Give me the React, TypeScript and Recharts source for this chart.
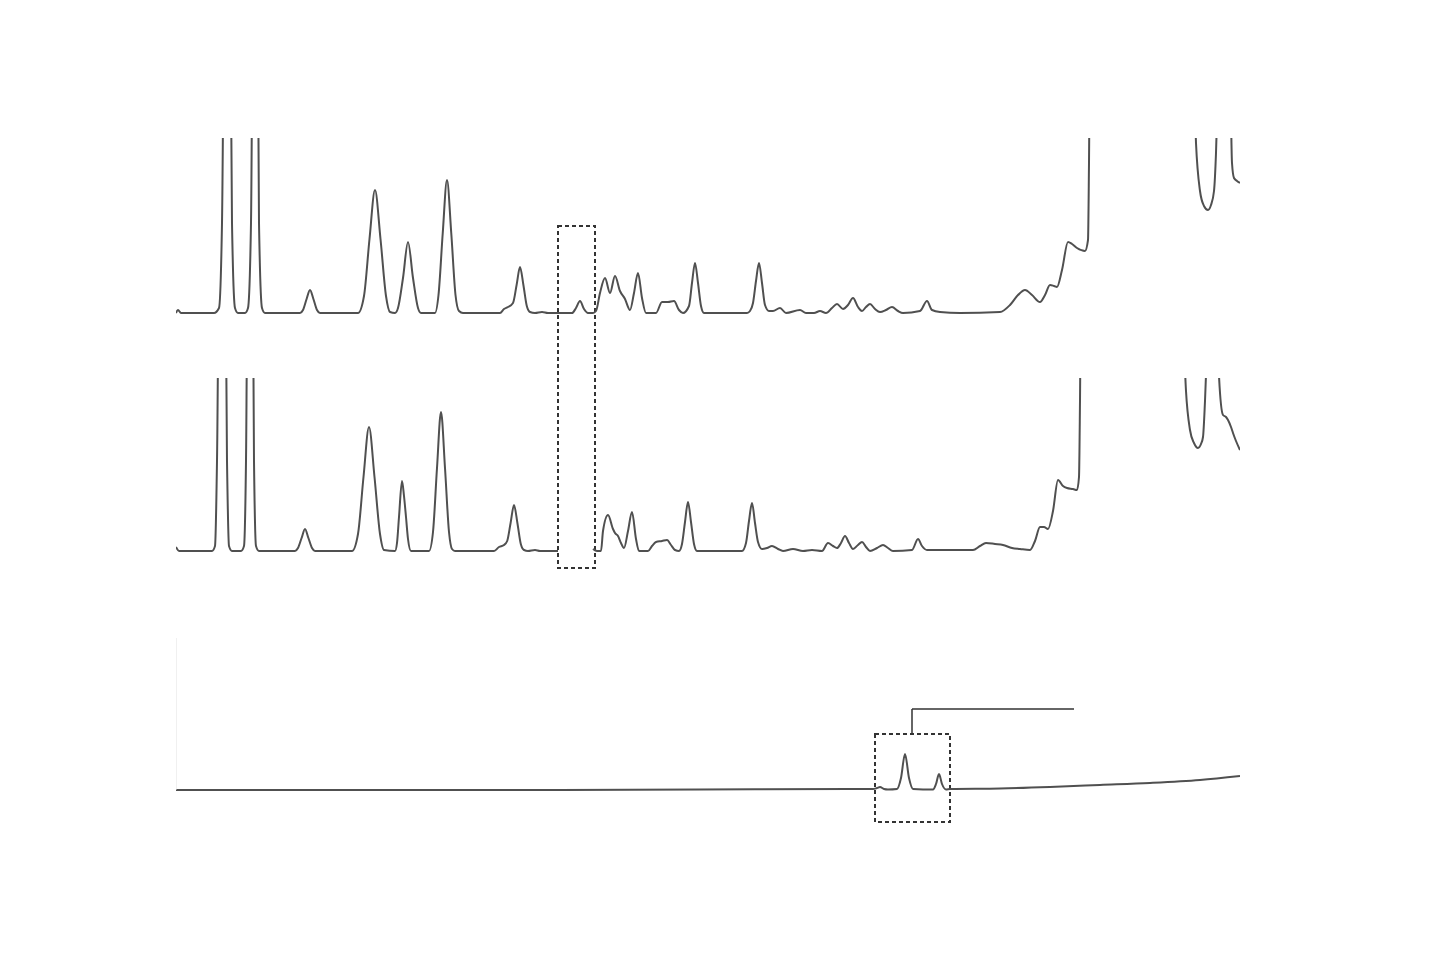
import { LineChart, Line, XAxis, YAxis, ReferenceArea, ReferenceLine } from "recharts"

// retention time (min) and detector signal (mAU) for the three runs
const topTime = [
  0, 0.1, 0.25, 1.9, 2.15, 2.3, 2.55, 2.8, 2.95, 3.1, 3.45, 3.6, 3.75, 3.95, 4.15, 4.3, 4.45,
  6.2, 6.35, 6.53, 6.7, 6.87, 7.05, 7.2,
  9.1, 9.4, 9.675, 9.95, 10.225, 10.5, 10.7,
  10.95, 11.1, 11.35, 11.6, 11.85, 12.1, 12.25,
  12.95, 13.125, 13.3375, 13.55, 13.7625, 13.975, 14.15, 14.35,
  16.2, 16.4, 16.6, 16.85, 17.03, 17.2, 17.37, 17.54, 17.7, 17.95, 18.3, 18.6,
  19.8, 20.0, 20.2, 20.4, 20.6, 20.85,
  21.0, 21.2, 21.45, 21.7, 21.95, 22.2, 22.45, 22.7, 22.9, 23.1, 23.3, 23.5,
  24.0, 24.3, 24.6, 24.9, 25.15, 25.35,
  25.65, 25.8, 25.95, 26.1, 26.25, 26.4,
  28.55, 28.7, 28.85, 29.0, 29.15, 29.3, 29.45, 29.65, 29.85, 30.2, 30.5, 31.2, 31.5, 31.9, 32.2, 32.5, 32.8,
  33.05, 33.35, 33.6, 33.85, 34.1, 34.3, 34.5, 34.7, 34.95, 35.2, 35.5, 35.8, 36.1, 36.35,
  37.2, 37.55, 37.8, 38.2, 39.2, 41.2,
  41.7, 42.1, 42.45, 42.8, 43.2, 43.45, 43.7, 43.9, 44.05, 44.3, 44.6, 44.8, 45.05, 45.45,
  45.6, 45.65, 45.7, 46.2,
  50.45, 50.85, 51.0, 51.2, 51.4, 51.6, 51.75, 51.9, 52.0, 52.1, 52.25, 52.45, 52.65, 52.8,
  52.9, 53.05, 53.2,
]
const topSignal = [
  0, 3, 0, 0, 5, 90, 700, 90, 5, 0, 0, 5, 90, 700, 90, 5, 0,
  0, 3, 14, 23, 14, 3, 0,
  0, 17, 74, 123, 74, 17, 1,
  0, 5, 35, 71, 35, 5, 0,
  0, 18, 80, 133, 80, 18, 2, 0,
  0, 4, 6, 10, 28, 46, 28, 7, 1, 0, 1, 0,
  0, 5, 12, 4, 0, 0,
  2, 20, 35, 20, 37, 22, 14, 3, 20, 40, 15, 0,
  0, 11, 11, 12, 3, 0,
  7, 30, 50, 30, 7, 0,
  0, 2, 10, 32, 50, 30, 8, 2, 2, 5, 0, 3, 0, 0, 2, 0, 5,
  9, 4, 8, 15, 6, 2, 6, 9, 4, 1, 3, 6, 2, 0,
  2, 12, 3, 1, 0, 1,
  8, 18, 23, 18, 11, 18, 28, 27, 26, 43, 71, 69, 65, 62,
  73, 150, 260, 350,
  350, 260, 170, 122, 107, 103, 108, 122, 160, 230, 350, 350, 320, 150,
  135, 132, 130,
]

const midTime = [
  0, 0.15, 1.8, 1.95, 2.05, 2.3, 2.55, 2.65, 2.8, 3.25, 3.4, 3.5, 3.7, 3.9, 4.0, 4.15,
  5.95, 6.1, 6.28, 6.45, 6.62, 6.8, 6.95,
  8.8, 9.1, 9.375, 9.65, 9.925, 10.2, 10.4,
  10.95, 11.05, 11.15, 11.3, 11.4, 11.5, 11.6, 11.75,
  12.65, 12.85, 13.05, 13.25, 13.45, 13.65, 13.8, 13.95,
  15.9, 16.15, 16.4, 16.56, 16.73, 16.9, 17.07, 17.24, 17.4, 17.6, 17.95, 18.2, 19.1, 20.0,
  20.85, 21.05, 21.25, 21.35, 21.6, 21.85, 21.95, 22.1, 22.25, 22.4, 22.6, 22.8, 23.0, 23.15,
  23.6, 23.8, 24.0, 24.3, 24.55, 24.75, 24.95, 25.15, 25.3, 25.45, 25.6, 25.75, 25.9, 26.05,
  28.3, 28.5, 28.65, 28.8, 28.95, 29.1, 29.3, 29.55, 29.8, 30.1, 30.35, 30.85, 31.35, 31.8, 32.3,
  32.6, 32.85, 33.05, 33.25, 33.45, 33.65, 33.85, 34.1, 34.3, 34.5, 34.7,
  35.05, 35.35, 35.6, 35.85, 36.8, 37.1, 37.3, 37.55, 39.85,
  40.2, 40.5, 40.95, 41.35, 41.8, 42.2, 42.7, 42.95, 43.2, 43.4, 43.6, 43.85, 44.1, 44.35,
  44.55, 44.85, 45.05, 45.15, 45.2, 45.25, 45.7,
  49.95, 50.35, 50.5, 50.7, 50.9, 51.1, 51.25, 51.35, 51.45, 51.6, 51.8, 51.95, 52.15,
  52.35, 52.5, 52.6, 52.75, 52.85, 53.0, 53.2,
]
const midSignal = [
  4, 0, 0, 5, 90, 700, 90, 5, 0, 0, 5, 90, 700, 90, 5, 0,
  0, 3, 13, 22, 13, 3, 0,
  0, 17, 74, 124, 74, 17, 1,
  0, 8, 34, 70, 55, 34, 12, 0,
  0, 19, 83, 139, 83, 19, 2, 0,
  0, 4, 6, 10, 28, 46, 28, 7, 1, 0, 1, 0, 0, null,
  2, 0, 0, 20, 36, 22, 18, 15, 8, 3, 20, 39, 12, 0,
  0, 5, 9, 10, 11, 6, 1, 0, 7, 29, 49, 29, 7, 0,
  0, 8, 30, 48, 28, 9, 2, 3, 5, 2, 0, 2, 0, 1, 0,
  8, 5, 3, 8, 15, 8, 2, 6, 9, 4, 0,
  3, 6, 3, 0, 1, 12, 5, 1, 1,
  5, 8, 7, 6, 3, 2, 1, 10, 24, 24, 22, 40, 71, 65,
  63, 62, 61, 74, 150, 260, 350,
  350, 230, 160, 121, 108, 103, 107, 114, 150, 230, 350, 330, 175,
  136, 134, 131, 124, 118, 110, 101,
]

const botTime = [
  0, 16.2, 26.2, 33.7, 34.85, 35.05, 35.2, 35.4, 35.6, 36.05, 36.25, 36.45, 36.65, 36.85,
  37.85, 38.0, 38.15, 38.3, 38.5, 38.7, 41.2, 43.7, 46.2, 48.7, 51.2, 53.2,
]
const botSignal = [
  0, 0, 0.5, 1, 1, 2, 3, 1, 0.5, 1, 12, 36, 12, 1,
  0.5, 6, 16, 6, 0.5, 1, 1.5, 3, 5, 7, 10, 14,
]

const toRows = (t: number[], s: (number | null)[]) => t.map((time, i) => ({ time, signal: s[i] }))

const traceColor = "#505050"
const boxColor = "#333"

function Trace({ data, top, height, domain, children }: any) {
  return (
    <div style={{ position: "absolute", left: 176, top }}>
      <LineChart width={1064} height={height} data={data} margin={{ top: 0, right: 0, bottom: 0, left: 0 }}>
        <XAxis dataKey="time" type="number" domain={[0, 53.2]} hide />
        <YAxis type="number" domain={domain} allowDataOverflow hide />
        <Line
          type="monotone"
          dataKey="signal"
          stroke={traceColor}
          strokeWidth={2}
          dot={false}
          isAnimationActive={false}
        />
        {children}
      </LineChart>
    </div>
  )
}

export default function App() {
  return (
    <div style={{ position: "absolute", left: 0, top: 0, width: 1445, height: 970, background: "#fff" }}>
      <Trace data={toRows(topTime, topSignal)} top={138} height={437} domain={[-262, 175]}>
        <ReferenceArea
          x1={19.1}
          x2={20.95}
          y1={-255}
          y2={87}
          fill="none"
          stroke={boxColor}
          strokeWidth={2}
          strokeDasharray="4 3"
        />
      </Trace>
      <Trace data={toRows(midTime, midSignal)} top={378} height={222} domain={[-49, 173]} />
      <Trace data={toRows(botTime, botSignal)} top={638} height={192} domain={[-40, 152]}>
        <ReferenceLine
          segment={[{ x: 0, y: 0 }, { x: 0, y: 152 }]}
          stroke="#e2e2e2"
          strokeWidth={1}
        />
        <ReferenceArea
          x1={34.95}
          x2={38.7}
          y1={-32}
          y2={56}
          fill="none"
          stroke={boxColor}
          strokeWidth={2}
          strokeDasharray="4 3"
        />
        <ReferenceLine segment={[{ x: 36.8, y: 56 }, { x: 36.8, y: 81 }]} stroke={boxColor} strokeWidth={1.5} />
        <ReferenceLine segment={[{ x: 36.8, y: 81 }, { x: 44.9, y: 81 }]} stroke={boxColor} strokeWidth={1.5} />
      </Trace>
    </div>
  )
}
